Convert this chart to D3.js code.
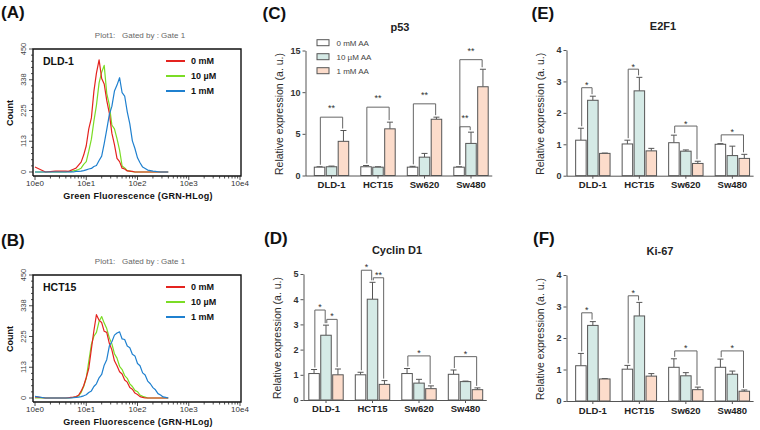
<!DOCTYPE html>
<html>
<head>
<meta charset="utf-8">
<script src="https://cdn.jsdelivr.net/npm/d3@7"></script>
<style>
  body { margin: 0; background: #fff; }
  svg { font-family: "Liberation Sans", Arial, sans-serif; }
</style>
</head>
<body>
<svg id="fig" width="760" height="430"></svg>
<script>
// ---------- flow cytometry histograms (GRN-HLog bins, counts) ----------
var flowBins = [1, 1.6, 2.5, 3.98, 4.47, 5.01, 5.62, 6.31, 7.08, 7.94, 8.91, 10, 11.2, 12.6, 14.1,
  15.8, 17.8, 20, 22.4, 25.1, 28.2, 31.6, 35.5, 39.8, 44.7, 50.1, 56.2, 63.1, 70.8, 79.4, 89.1,
  100, 112, 126, 141, 158, 178, 200, 224, 251, 282, 316, 355, 398];

var dldRed   = [18, 0, 3, 3, 2, 6, 10, 14, 25, 36, 62, 96, 158, 198, 295, 362, 410, 342, 322, 262, 215, 142, 100, 50, 38, 14, 11, 4, 3, 2, 0, 0, 0, 0, 0, 0, 0, 0, 0, 0, 0, 0, 0, 0];
var dldGreen = [0, 0, 1, 0, 2, 1, 4, 6, 9, 14, 28, 38, 76, 120, 186, 244, 326, 365, 390, 288, 246, 172, 158, 122, 80, 22, 15, 5, 3, 1, 0, 0, 0, 0, 0, 0, 0, 0, 0, 0, 0, 0, 0, 0];
var dldBlue  = [0, 0, 0, 0, 0, 1, 0, 2, 2, 3, 5, 8, 11, 13, 20, 24, 42, 58, 104, 155, 210, 240, 296, 318, 345, 290, 278, 220, 176, 114, 86, 52, 34, 18, 13, 7, 5, 3, 2, 1, 0, 0, 0, 0];
var hctRed   = [4, 0, 0, 0, 1, 2, 3, 5, 10, 25, 45, 75, 108, 180, 246, 305, 284, 276, 244, 240, 200, 176, 136, 118, 96, 88, 66, 58, 38, 32, 18, 13, 5, 2, 0, 0, 0, 0, 0, 0, 0, 0, 0, 0];
var hctGreen = [0, 0, 0, 0, 0, 1, 2, 3, 8, 20, 42, 72, 134, 196, 226, 240, 280, 298, 274, 254, 220, 198, 162, 146, 116, 104, 82, 72, 52, 42, 28, 23, 11, 6, 3, 0, 0, 0, 0, 0, 0, 0, 0, 0];
var hctBlue  = [6, 0, 0, 0, 0, 0, 1, 2, 3, 5, 8, 12, 20, 26, 42, 52, 74, 86, 120, 140, 190, 206, 230, 238, 242, 216, 214, 190, 184, 160, 154, 126, 118, 92, 84, 62, 52, 38, 30, 16, 11, 4, 2, 0];

var flowLegend = ["0 mM", "10 µM", "1 mM"];
var flowColors = ["#e4231f", "#7bdc25", "#1f80cf"];
var flowYTicks = [0, 113, 225, 338, 450];
var flowXTicks = [1, 10, 100, 1000, 10000];
var flowXLabels = ["10e0", "10e1", "10e2", "10e3", "10e4"];

// ---------- qPCR bar charts: [0 mM, 10 µM, 1 mM] per cell line ----------
var cellLines = ["DLD-1", "HCT15", "Sw620", "Sw480"];
var treatments = ["0 mM AA", "10 µM AA", "1 mM AA"];
var barFills = ["#ffffff", "#d5eae6", "#fcdccb"];

var p53Mean = [[1.0, 1.05, 4.1], [1.05, 1.0, 5.6], [1.0, 2.2, 6.75], [1.0, 3.85, 10.65]];
var p53Err  = [[0.05, 0.08, 1.3], [0.15, 0.05, 0.8], [0.1, 0.45, 0.25], [0.05, 1.35, 2.1]];
var p53Sig  = [[0, 0, 2, 7.0, "**"], [1, 0, 2, 8.2, "**"], [2, 0, 2, 8.6, "**"], [3, 0, 1, 5.85, "**"], [3, 0, 2, 13.9, "**"]];

var ccndMean = [[1.05, 2.57, 1.0], [1.0, 4.0, 0.62], [1.05, 0.67, 0.45], [1.02, 0.73, 0.41]];
var ccndErr  = [[0.16, 0.4, 0.23], [0.1, 0.67, 0.15], [0.2, 0.15, 0.11], [0.17, 0.02, 0.07]];
var ccndSig  = [[0, 0, 1, 3.57, "*"], [0, 1, 2, 3.2, "*"], [1, 0, 1, 5.15, "*"], [1, 1, 2, 4.85, "**"], [2, 0, 2, 1.75, "*"], [3, 0, 2, 1.72, "*"]];

var e2f1Mean = [[1.13, 2.4, 0.71], [1.01, 2.7, 0.79], [1.05, 0.78, 0.39], [1.0, 0.64, 0.55]];
var e2f1Err  = [[0.38, 0.13, 0.01], [0.12, 0.43, 0.08], [0.24, 0.04, 0.07], [0.02, 0.3, 0.13]];
var e2f1Sig  = [[0, 0, 1, 2.8, "*"], [1, 0, 1, 3.39, "*"], [2, 0, 2, 1.58, "*"], [3, 0, 2, 1.3, "*"]];

var ki67Mean = [[1.12, 2.4, 0.7], [1.01, 2.7, 0.79], [1.07, 0.8, 0.36], [1.07, 0.85, 0.31]];
var ki67Err  = [[0.39, 0.12, 0.01], [0.12, 0.43, 0.08], [0.27, 0.1, 0.08], [0.26, 0.1, 0.04]];
var ki67Sig  = [[0, 0, 1, 2.8, "*"], [1, 0, 1, 3.34, "*"], [2, 0, 2, 1.59, "*"], [3, 0, 2, 1.59, "*"]];

var svg = d3.select("#fig");

function panelLetter(txt, x, y) {
  svg.append("text").attr("x", x).attr("y", y)
    .attr("font-size", 17).attr("font-weight", "bold").attr("fill", "#111").text(txt);
}

// ---------- flow panel ----------
function flowPanel(o) {
  var g = svg.append("g");
  var left = 33, right = 241, top = o.top, base = o.top + 127;
  var x = d3.scaleLog().domain([1, 10000]).range([35, 240]);
  var y = d3.scaleLinear().domain([0, 450]).range([top + 123, top]);

  g.append("text").attr("x", 140).attr("y", top - 11).attr("text-anchor", "middle")
    .attr("font-size", 8).attr("fill", "#666").attr("xml:space", "preserve")
    .text("Plot1:   Gated by : Gate 1");

  var line = d3.line().x(function(d) { return x(d[0]); }).y(function(d) { return y(d[1]); });
  [1, 0, 2].forEach(function(i) {
    g.append("path")
      .datum(flowBins.map(function(b, k) { return [b, o.series[i][k]]; }))
      .attr("d", line).attr("fill", "none")
      .attr("stroke", flowColors[i]).attr("stroke-width", 1.2).attr("stroke-linejoin", "round");
  });

  // frame
  g.append("path").attr("d", "M" + left + "," + base + "V" + top + "H" + right + "V" + base + "H" + left)
    .attr("fill", "none").attr("stroke", "#111").attr("stroke-width", 1.4);

  // y ticks
  d3.range(0, 451, 22.5).forEach(function(v) {
    var major = flowYTicks.some(function(t) { return Math.abs(t - v) < 1; });
    g.append("line").attr("x1", left).attr("x2", left - (major ? 4 : 2))
      .attr("y1", y(v)).attr("y2", y(v)).attr("stroke", "#222").attr("stroke-width", 0.8);
  });
  flowYTicks.forEach(function(t) {
    g.append("text").attr("transform", "translate(" + (left - 7) + "," + y(t) + ") rotate(-90)")
      .attr("text-anchor", "middle").attr("font-size", 7.5).attr("fill", "#444").text(t);
  });
  g.append("text").attr("transform", "translate(13," + (top + 64) + ") rotate(-90)")
    .attr("text-anchor", "middle").attr("font-size", 9).attr("font-weight", "bold")
    .attr("fill", "#111").text("Count");

  // x ticks
  x.ticks().forEach(function(v) {
    var major = flowXTicks.indexOf(v) >= 0;
    g.append("line").attr("x1", x(v)).attr("x2", x(v))
      .attr("y1", base).attr("y2", base + (major ? 4 : 2.5)).attr("stroke", "#222").attr("stroke-width", 0.8);
  });
  flowXTicks.forEach(function(v, i) {
    g.append("text").attr("x", x(v)).attr("y", base + 10).attr("text-anchor", "middle")
      .attr("font-size", 8).attr("fill", "#333").text(flowXLabels[i]);
  });
  g.append("text").attr("x", 138).attr("y", base + 23).attr("text-anchor", "middle")
    .attr("font-size", 9).attr("font-weight", "bold").attr("letter-spacing", 0.3)
    .attr("fill", "#111").text("Green Fluorescence (GRN-HLog)");

  g.append("text").attr("x", 43).attr("y", top + 16).attr("font-size", 10.5)
    .attr("font-weight", "bold").attr("fill", "#111").text(o.name);

  flowLegend.forEach(function(l, i) {
    var ly = top + 12 + i * 15;
    g.append("line").attr("x1", 166).attr("x2", 185).attr("y1", ly).attr("y2", ly)
      .attr("stroke", flowColors[i]).attr("stroke-width", 2);
    g.append("text").attr("x", 191).attr("y", ly + 3.3).attr("font-size", 9)
      .attr("font-weight", "bold").attr("fill", "#111").text(l);
  });
}

// ---------- bar panel ----------
function barPanel(o) {
  var g = svg.append("g");
  var y = d3.scaleLinear().domain([0, o.yMax]).range([o.y0, o.yTop]);
  var x0 = d3.scaleBand().domain(cellLines).range([o.r0, o.r0 + 186])
    .paddingInner(0.26).paddingOuter(0.13);
  var x1 = d3.scaleBand().domain(treatments).range([0, x0.bandwidth()]).paddingInner(0.12);
  var cx = function(gi, si) { return x0(cellLines[gi]) + x1(treatments[si]) + x1.bandwidth() / 2; };

  g.append("text").attr("x", o.titleX).attr("y", o.yTop - 20).attr("text-anchor", "middle")
    .attr("font-size", 11).attr("font-weight", "bold").attr("fill", "#222").text(o.title);

  g.append("text").attr("transform", "translate(" + (o.ax - 23) + "," + ((o.y0 + o.yTop) / 2 + 1) + ") rotate(-90)")
    .attr("text-anchor", "middle").attr("font-size", 10.5).attr("fill", "#2a2a2a")
    .text("Relative expression (a. u.)");

  var rows = [];
  o.mean.forEach(function(r, i) {
    r.forEach(function(v, j) { rows.push({ gi: i, si: j, v: v, e: o.err[i][j] }); });
  });

  // error bars (upper only)
  rows.forEach(function(d) {
    var c = cx(d.gi, d.si), yt = y(d.v + d.e);
    g.append("path").attr("d", "M" + c + "," + y(d.v) + "V" + yt + "M" + (c - 3) + "," + yt + "H" + (c + 3))
      .attr("fill", "none").attr("stroke", "#555").attr("stroke-width", 1);
  });

  g.selectAll("rect.bar").data(rows).enter().append("rect")
    .attr("class", "bar")
    .attr("x", function(d) { return x0(cellLines[d.gi]) + x1(treatments[d.si]); })
    .attr("y", function(d) { return y(d.v); })
    .attr("width", x1.bandwidth())
    .attr("height", function(d) { return y(0) - y(d.v); })
    .attr("fill", function(d) { return barFills[d.si]; })
    .attr("stroke", "#555").attr("stroke-width", 1);

  // axes
  var ya = g.append("g").attr("transform", "translate(" + o.ax + ",0)")
    .call(d3.axisLeft(y).tickValues(o.ticks).tickSize(3).tickSizeOuter(0).tickPadding(2).tickFormat(d3.format("d")));
  ya.selectAll("text").attr("font-size", 9).attr("font-weight", "bold").attr("fill", "#333")
    .attr("font-family", "Liberation Sans, Arial, sans-serif");
  ya.selectAll("line,path").attr("stroke", "#555");

  var xa = g.append("g").attr("transform", "translate(0," + o.y0 + ")")
    .call(d3.axisBottom(x0).tickSize(3).tickSizeOuter(0).tickPadding(o.xPad));
  xa.select(".domain").attr("d", "M" + o.ax + ",0.5H" + (o.r0 + 184));
  xa.selectAll("text").attr("font-size", 9.5).attr("font-weight", "bold").attr("fill", "#222")
    .attr("font-family", "Liberation Sans, Arial, sans-serif");
  xa.selectAll("line,path").attr("stroke", "#555");

  // significance brackets
  o.sig.forEach(function(b) {
    var xa1 = cx(b[0], b[1]) + 0.8, xb1 = cx(b[0], b[2]) - 0.8;
    var ya1 = y(o.mean[b[0]][b[1]] + o.err[b[0]][b[1]]) - 2;
    var yb1 = y(o.mean[b[0]][b[2]] + o.err[b[0]][b[2]]) - 2;
    var yt = y(b[3]);
    g.append("path").attr("d", "M" + xa1 + "," + ya1 + "V" + yt + "H" + xb1 + "V" + yb1)
      .attr("fill", "none").attr("stroke", "#666").attr("stroke-width", 1);
    g.append("text").attr("x", (xa1 + xb1) / 2).attr("y", yt - o.starGap)
      .attr("text-anchor", "middle").attr("font-size", 9).attr("fill", "#333").text(b[4]);
  });

  if (o.legend) {
    treatments.forEach(function(t, i) {
      var ly = 42.7 + i * 14;
      g.append("rect").attr("x", 317).attr("y", ly - 3).attr("width", 12).attr("height", 6)
        .attr("fill", barFills[i]).attr("stroke", "#555").attr("stroke-width", 1);
      g.append("text").attr("x", 336.5).attr("y", ly + 2.8).attr("font-size", 8)
        .attr("fill", "#444").text(t);
    });
  }
}

panelLetter("(A)", 1, 18);
panelLetter("(B)", 1, 246);
panelLetter("(C)", 262.5, 19);
panelLetter("(D)", 264, 244);
panelLetter("(E)", 531.5, 19);
panelLetter("(F)", 533, 244);

flowPanel({ top: 49, name: "DLD-1", series: [dldRed, dldGreen, dldBlue] });
flowPanel({ top: 275, name: "HCT15", series: [hctRed, hctGreen, hctBlue] });

barPanel({ title: "p53", titleX: 400, ax: 305.5, r0: 308.25, y0: 175.5, yTop: 50.5, yMax: 15,
  ticks: [0, 5, 10, 15], mean: p53Mean, err: p53Err, sig: p53Sig, starGap: 6, xPad: 3, legend: true });
barPanel({ title: "Cyclin D1", titleX: 397, ax: 303.5, r0: 302.75, y0: 400, yTop: 274, yMax: 5,
  ticks: [0, 1, 2, 3, 4, 5], mean: ccndMean, err: ccndErr, sig: ccndSig, starGap: 0, xPad: 2 });
barPanel({ title: "E2F1", titleX: 663, ax: 566.5, r0: 569.6, y0: 175.7, yTop: 50, yMax: 4,
  ticks: [0, 1, 2, 3, 4], mean: e2f1Mean, err: e2f1Err, sig: e2f1Sig, starGap: -0.5, xPad: 3 });
barPanel({ title: "Ki-67", titleX: 660, ax: 566.5, r0: 569.6, y0: 401, yTop: 275, yMax: 4,
  ticks: [0, 1, 2, 3, 4], mean: ki67Mean, err: ki67Err, sig: ki67Sig, starGap: -0.5, xPad: 3 });
</script>
</body>
</html>
